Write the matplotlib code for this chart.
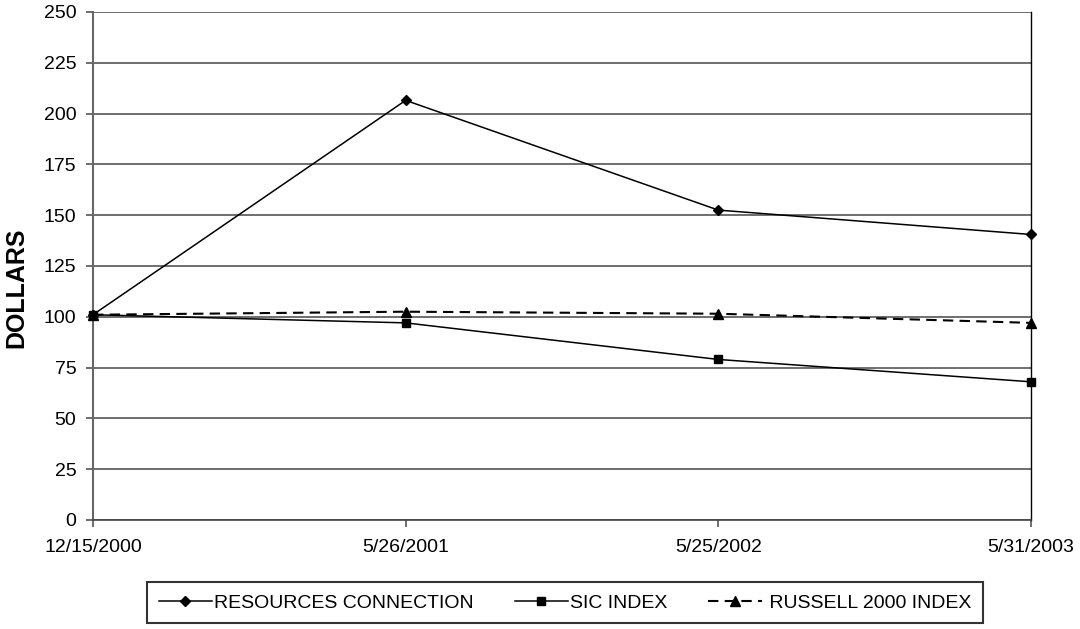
import matplotlib.pyplot as plt

plt.rcParams['font.family'] = ['Liberation Sans', 'DejaVu Sans']

dates = ["12/15/2000", "5/26/2001", "5/25/2002", "5/31/2003"]
resources = [101, 206.5, 152.5, 140.5]
sic_index = [101, 97, 79, 68]
russell = [101, 102.5, 101.5, 97]

fig = plt.figure(figsize=(10.8, 6.29), dpi=100)
ax = fig.add_axes([0.0861, 0.1733, 0.8685, 0.8077])

x = list(range(len(dates)))
ax.plot(x, resources, color="black", lw=1.1, marker="D", ms=5.5,
        label="RESOURCES CONNECTION", clip_on=False, zorder=3)
ax.plot(x, sic_index, color="black", lw=1.1, marker="s", ms=6,
        label="SIC INDEX", clip_on=False, zorder=3)
ax.plot(x, russell, color="black", lw=1.5, ls=(0, (5, 3)), marker="^", ms=7,
        label=" RUSSELL 2000 INDEX", clip_on=False, zorder=3)

ax.set_xlim(0, 3)
ax.set_ylim(0, 250)
ax.set_yticks(range(0, 251, 25))
ax.set_xticks(x)
ax.set_xticklabels(dates)
ax.yaxis.grid(True, color="#555555", lw=1.2)
ax.set_axisbelow(True)

ax.spines["top"].set_visible(False)
ax.spines["left"].set_color("#666666")
ax.spines["left"].set_linewidth(1.5)
ax.spines["bottom"].set_color("#444444")
ax.spines["bottom"].set_linewidth(1.2)
ax.spines["right"].set_color("black")
ax.spines["right"].set_linewidth(1.0)

ax.tick_params(axis="both", labelsize=14, direction="out", length=5,
               color="#555555", width=1.2)
ax.tick_params(axis="y", pad=7)
ax.tick_params(axis="x", pad=9)
ax.set_ylabel("DOLLARS", fontsize=18, fontweight="bold")
ax.yaxis.set_label_coords(-0.069, 0.457)

leg = ax.legend(loc="center", bbox_to_anchor=(0.503, -0.163), ncol=3,
                frameon=True, fancybox=False, edgecolor="black",
                fontsize=14, handlelength=2.75, handletextpad=0.1,
                columnspacing=2.1, borderpad=0.6)
leg.get_frame().set_linewidth(1.5)

fig.savefig("out.png", dpi=100)
